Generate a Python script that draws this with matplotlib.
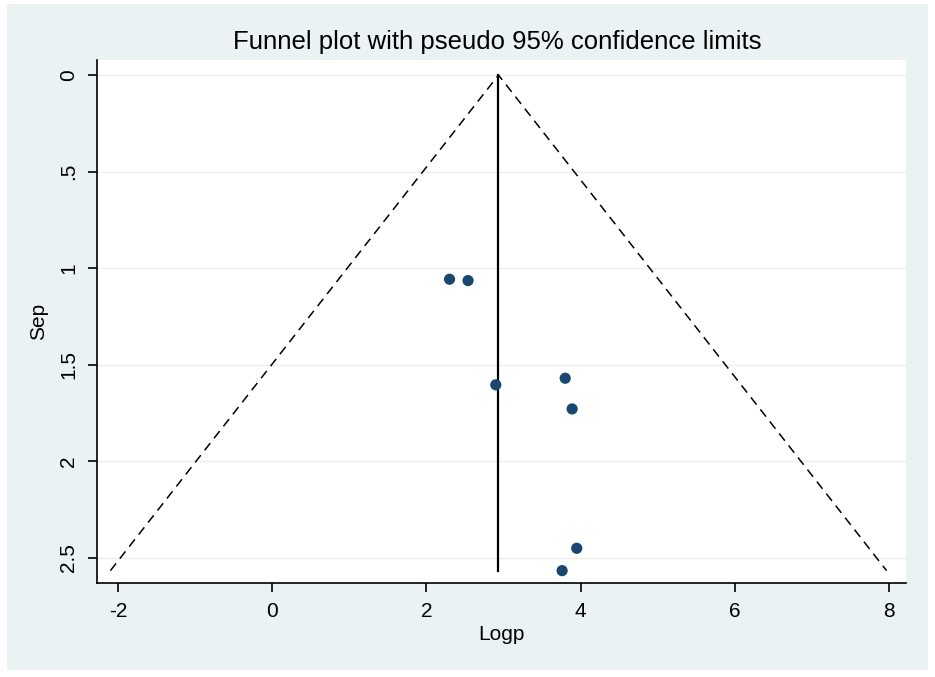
import matplotlib
matplotlib.use("Agg")
import matplotlib.pyplot as plt
from matplotlib.patches import Rectangle
import numpy as np

plt.rcParams['font.family'] = ['Liberation Sans', 'DejaVu Sans']

# Data
logp = [2.30, 2.54, 2.90, 3.80, 3.89, 3.95, 3.76]
sep = [1.058, 1.065, 1.605, 1.571, 1.730, 2.452, 2.568]
pooled = 2.935
xticks = [-2, 0, 2, 4, 6, 8]
yticks = [0, 0.5, 1, 1.5, 2, 2.5]
ytick_labels = ["0", ".5", "1", "1.5", "2", "2.5"]

fig = plt.figure(figsize=(9.35, 6.77), dpi=100)
fig.patch.set_facecolor('white')
fig.add_artist(Rectangle((7 / 935, 1 - 670 / 677), (928 - 7) / 935, (670 - 4) / 677,
                         transform=fig.transFigure, facecolor='#eaf2f3',
                         edgecolor='none', zorder=0))

ax = fig.add_axes([97 / 935, 1 - 583 / 677, (906 - 97) / 935, (583 - 60) / 677])
ax.set_facecolor('white')

maxse = max(sep)
ax.plot([pooled - 1.96 * maxse, pooled, pooled + 1.96 * maxse], [maxse, 0, maxse],
        color='black', lw=1.1, ls=(0, (6, 4)), zorder=2)
ax.plot([pooled, pooled], [0, maxse], color='black', lw=1.6, zorder=2)
ax.scatter(logp, sep, s=65, color='#1a476f', zorder=3, edgecolors='none')

ax.set_xlim(-2.272, 8.22)
ax.set_ylim(2.632, -0.078)
ax.set_xticks(xticks)
ax.set_xticklabels([str(t) for t in xticks])
ax.set_yticks(yticks)
ax.set_yticklabels(ytick_labels, rotation=90, va='center')
for t in yticks:
    ax.axhline(t, color='#eeeeee', lw=1.0, zorder=1)

for s in ['top', 'right']:
    ax.spines[s].set_visible(False)
for s in ['left', 'bottom']:
    ax.spines[s].set_color('black')
    ax.spines[s].set_linewidth(1.2)
ax.tick_params(axis='both', direction='out', length=6.5, width=1.2, labelsize=15, colors='black')
ax.tick_params(axis='x', pad=7)
ax.tick_params(axis='y', pad=7)

ax.set_xlabel('Logp', fontsize=15, labelpad=3)
ax.set_ylabel('Sep', fontsize=15, labelpad=8)
fig.text(497 / 935, 1 - 42 / 677, 'Funnel plot with pseudo 95% confidence limits',
         ha='center', va='center', fontsize=18.5)

fig.savefig('out.png', dpi=100, facecolor=fig.get_facecolor())
